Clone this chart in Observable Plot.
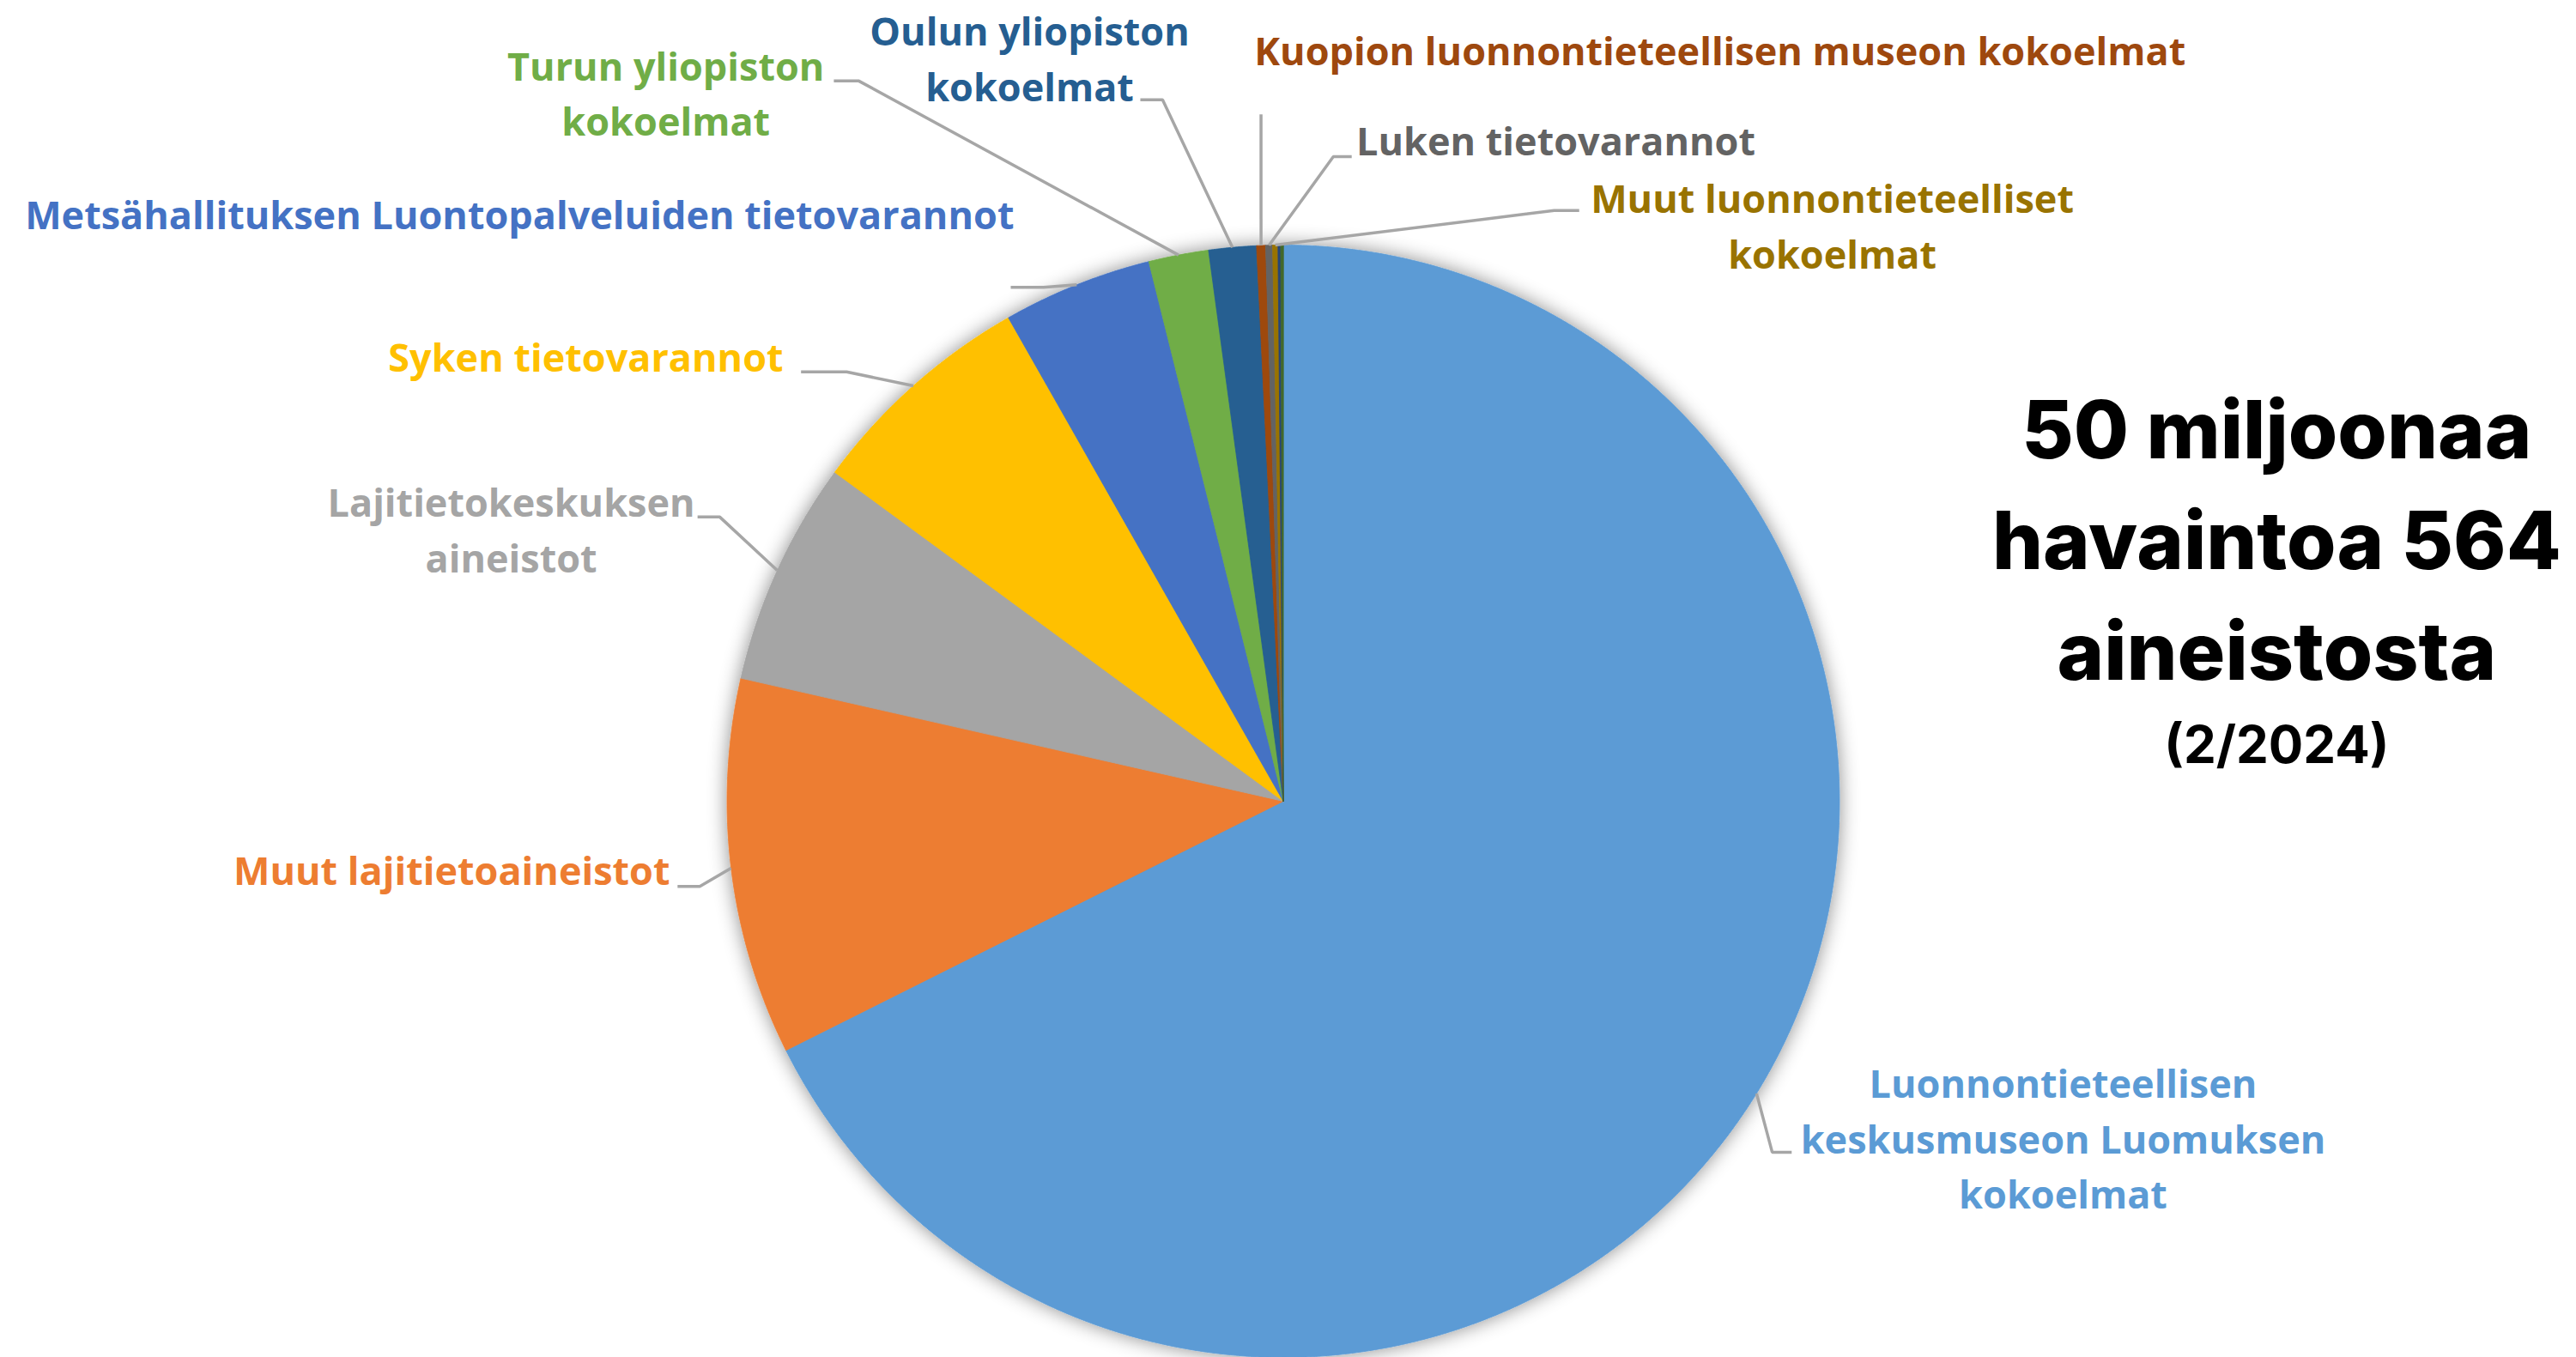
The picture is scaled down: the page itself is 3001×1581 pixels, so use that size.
<!DOCTYPE html>
<html>
<head>
<meta charset="utf-8">
<script src="https://cdn.jsdelivr.net/npm/d3@7"></script>
<script src="https://cdn.jsdelivr.net/npm/@observablehq/plot@0.6"></script>
<style>
  html, body { margin: 0; padding: 0; background: #ffffff; }
  #chart svg { display: block; }
</style>
</head>
<body>
<div id="chart"></div>
<script>
const categories = [
  "Luonnontieteellisen keskusmuseon Luomuksen kokoelmat",
  "Muut lajitietoaineistot",
  "Lajitietokeskuksen aineistot",
  "Syken tietovarannot",
  "Metsähallituksen Luontopalveluiden tietovarannot",
  "Turun yliopiston kokoelmat",
  "Oulun yliopiston kokoelmat",
  "Kuopion luonnontieteellisen museon kokoelmat",
  "Luken tietovarannot",
  "Muut luonnontieteelliset kokoelmat",
  "(muu 1)",
  "(muu 2)"
];
const values = [33.8, 5.47, 3.26, 3.35, 2.17, 0.87, 0.69, 0.13, 0.10, 0.077, 0.038, 0.038];
const sliceColors = ["#5B9BD5", "#ED7D31", "#A5A5A5", "#FFC000", "#4472C4", "#70AD47",
                     "#255E91", "#9E480E", "#636363", "#997300", "#264478", "#43682B"];
// Label texts as shown (line breaks as in the picture); null = no label
const labelTexts = [
  "Luonnontieteellisen\nkeskusmuseon Luomuksen\nkokoelmat",
  "Muut lajitietoaineistot",
  "Lajitietokeskuksen\naineistot",
  "Syken tietovarannot",
  "Metsähallituksen Luontopalveluiden tietovarannot",
  "Turun yliopiston\nkokoelmat",
  "Oulun yliopiston\nkokoelmat",
  "Kuopion luonnontieteellisen museon kokoelmat",
  "Luken tietovarannot",
  "Muut luonnontieteelliset\nkokoelmat",
  null,
  null
];
const titleLines = ["50 miljoonaa", "havaintoa 564", "aineistosta"];
const dateLine = "(2/2024)";

// ---------------- LAYOUT (label placement, in pie-radius units; centre = 0,0) ----------------
// lx,ly: label anchor (centre x, baseline of last line); ex,ey: leader elbow; tx,ty: leader end
const labelLayout = [
  {lx: 1.402,  ly: -0.733, ex: 0.879,  ey: -0.631, tx: 0.914,  ty: -0.631},
  {lx: -1.495, ly: -0.151, ex: -1.049, ey: -0.153, tx: -1.089, ty: -0.153},
  {lx: -1.388, ly: 0.411,  ex: -1.013, ey: 0.511,  tx: -1.053, ty: 0.511},
  {lx: -1.254, ly: 0.772,  ex: -0.785, ey: 0.772,  tx: -0.867, ty: 0.772},
  {lx: -1.373, ly: 1.028,  ex: -0.431, ey: 0.924,  tx: -0.490, ty: 0.924},
  {lx: -1.110, ly: 1.196,  ex: -0.763, ey: 1.295,  tx: -0.808, ty: 1.295},
  {lx: -0.456, ly: 1.259,  ex: -0.217, ey: 1.261,  tx: -0.257, ty: 1.261},
  {lx: 0.785,  ly: 1.324,  ex: -0.040, ey: 1.235,  tx: -0.040, ty: 1.235},
  {lx: 0.490,  ly: 1.162,  ex: 0.090,  ey: 1.159,  tx: 0.123,  ty: 1.159},
  {lx: 0.987,  ly: 0.958,  ex: 0.487,  ey: 1.062,  tx: 0.532,  ty: 1.062},
  null,
  null
];
const titleX = 1.786;
const titleBaselines = [0.617, 0.418, 0.219];
const dateBaseline = 0.069;

// ---------------- BUILD ----------------
const W = 3001, H = 1581;
const total = d3.sum(values);
let cum = 0;
const slices = categories.map((name, i) => {
  const a0 = cum / total * 2 * Math.PI;
  cum += values[i];
  const a1 = cum / total * 2 * Math.PI;
  return {name, value: values[i], a0, a1, mid: (a0 + a1) / 2, i};
});

// polygon points for each slice (angles clockwise from 12 o'clock, unit radius)
const piePoints = [];
for (const s of slices) {
  piePoints.push({name: s.name, x: 0, y: 0});
  const n = Math.max(2, Math.ceil((s.a1 - s.a0) / (Math.PI / 720)));
  for (let k = 0; k <= n; k++) {
    const a = s.a0 + (s.a1 - s.a0) * k / n;
    piePoints.push({name: s.name, x: Math.sin(a), y: Math.cos(a)});
  }
}

const labelData = [];
const leaderPoints = [];
slices.forEach((s, i) => {
  const L = labelLayout[i];
  if (!L || !labelTexts[i]) return;
  labelData.push({name: s.name, text: labelTexts[i], x: L.lx, y: L.ly});
  leaderPoints.push({name: s.name, x: Math.sin(s.mid), y: Math.cos(s.mid)});
  leaderPoints.push({name: s.name, x: L.ex, y: L.ey});
  leaderPoints.push({name: s.name, x: L.tx, y: L.ty});
});

const titleData = titleLines.map((t, i) => ({text: t, x: titleX, y: titleBaselines[i]}));
const dateData = [{text: dateLine, x: titleX, y: dateBaseline}];

// scale domains: pie centre at (1494.5, 933) px, radius 648 px
const R = 648, CX = 1494.5, CY = 933;

const chart = Plot.plot({
  width: W,
  height: H,
  margin: 0,
  style: {background: "#ffffff", overflow: "visible"},
  x: {domain: [-CX / R, (W - CX) / R], axis: null},
  y: {domain: [-(H - CY) / R, CY / R], axis: null},
  color: {domain: categories, range: sliceColors, legend: false},
  marks: [
    Plot.line(piePoints, {x: "x", y: "y", z: "name", fill: "name", stroke: "name",
                          strokeWidth: 0.8, curve: "linear-closed"}),
    Plot.line(leaderPoints, {x: "x", y: "y", z: "name", stroke: "#A6A6A6", strokeWidth: 3.5,
                             strokeLinejoin: "miter", strokeLinecap: "butt"}),
    Plot.text(labelData, {x: "x", y: "y", text: "text", fill: "name",
                          fontFamily: "Open Sans", fontWeight: 700, fontSize: 45,
                          lineAnchor: "bottom", lineHeight: 1.444, textAnchor: "middle"}),
    Plot.text(titleData, {x: "x", y: "y", text: "text", fill: "#000000",
                          fontFamily: "Inter", fontWeight: 800, fontSize: 93,
                          lineAnchor: "bottom", textAnchor: "middle"}),
    Plot.text(dateData, {x: "x", y: "y", text: "text", fill: "#000000",
                         fontFamily: "Inter", fontWeight: 700, fontSize: 60,
                         lineAnchor: "bottom", textAnchor: "middle"})
  ]
});

// soft shadow around the pie (as in the original)
const svgNS = "http://www.w3.org/2000/svg";
const defs = document.createElementNS(svgNS, "defs");
defs.innerHTML = `<filter id="pieShadow" x="-10%" y="-10%" width="120%" height="120%">
  <feDropShadow dx="0" dy="0" stdDeviation="11" flood-color="#000" flood-opacity="0.45"/>
</filter>`;
chart.insertBefore(defs, chart.firstChild);
const pieGroup = chart.querySelector('g[aria-label="line"]');
if (pieGroup) pieGroup.setAttribute("filter", "url(#pieShadow)");

document.getElementById("chart").appendChild(chart);
</script>
</body>
</html>
